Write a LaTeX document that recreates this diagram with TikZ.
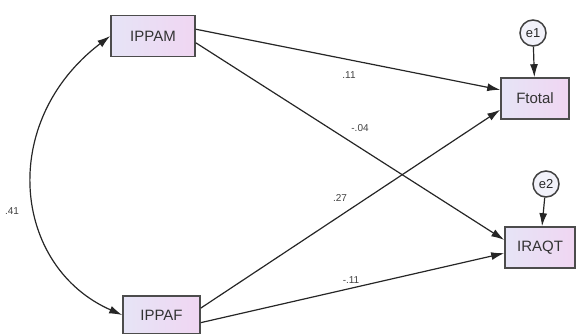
\documentclass[tikz,border=0pt]{standalone}
\usepackage{fontspec}
\setmainfont{Liberation Sans}
\usetikzlibrary{arrows.meta}
\definecolor{boxL}{RGB}{230,228,246}
\definecolor{boxR}{RGB}{240,214,242}
\begin{document}
\begin{tikzpicture}[x=1pt,y=-1pt,
  obs/.style={draw=black!70, line width=1.6pt, left color=boxL, right color=boxR,
    minimum width=84pt, minimum height=41pt, inner sep=0pt, font=\fontsize{15}{15}\selectfont, text=black!80},
  err/.style={circle, draw=black!75, line width=1.5pt, fill=boxL!50, minimum size=26pt, inner sep=0pt,
    font=\fontsize{13}{13}\selectfont, text=black!85},
  path/.style={draw=black!85, line width=1.2pt, -{Latex[length=13pt,width=8pt]}},
  coef/.style={font=\fontsize{10}{10}\selectfont, text=black!75}]
\useasboundingbox (0,0) rectangle (577,333);
\node[obs] (IPPAM) at (153,36) {IPPAM};
\node[obs, minimum width=77pt, minimum height=38pt] (IPPAF) at (161.5,315) {IPPAF};
\node[obs, minimum width=68pt] (Ftotal) at (535,98.5) {Ftotal};
\node[obs, minimum width=70pt] (IRAQT) at (540,247.5) {IRAQT};
\node[err] (e1) at (533,33) {e1};
\node[err] (e2) at (546,184) {e2};
\draw[path] (e1) -- (Ftotal);
\draw[path] (e2) -- (IRAQT);
\draw[path] (IPPAM.9.5) -- (Ftotal.166);
\draw[path] (IPPAM.-9.5) -- (IRAQT.168);
\draw[path] (IPPAF.10.3) -- (Ftotal.198.7);
\draw[path] (IPPAF.-11.7) -- (IRAQT.189);
\draw[draw=black!85, line width=1.2pt, {Latex[length=13pt,width=8pt]}-{Latex[length=13pt,width=8pt]}]
  (IPPAM.west) .. controls (-2.6,122) and (12.7,266.8) .. (IPPAF.west);
\node[coef] (l1) at (349,75) {.11};
\node[coef] (l2) at (360,128) {-.04};
\node[coef] (l3) at (340,198) {.27};
\node[coef] (l4) at (351,280) {-.11};
\node[coef] (l5) at (12,211) {.41};
\end{tikzpicture}
\end{document}
